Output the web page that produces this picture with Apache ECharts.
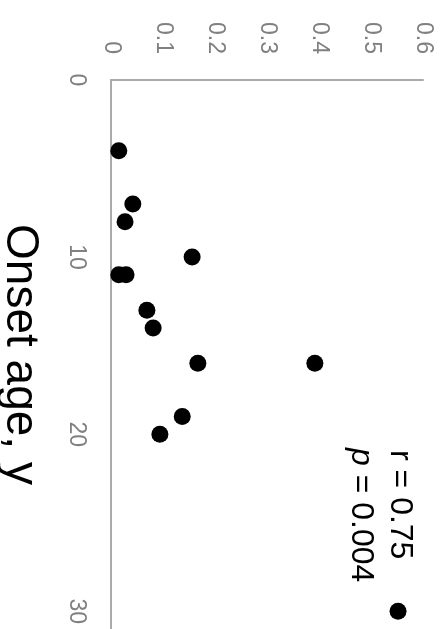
<!DOCTYPE html>
<html>
<head>
<meta charset="utf-8">
<script src="https://cdn.jsdelivr.net/npm/echarts@6/dist/echarts.min.js"></script>
<style>
html,body{margin:0;padding:0;background:#fff;}
#chart{width:443px;height:629px;}
</style>
</head>
<body>
<div id="chart"></div>
<script>
// Data (onset age in years, value)
var onsetAge = [4, 7, 8, 10, 11, 11, 13, 14, 16, 16, 19, 20, 30];
var values   = [0.015, 0.042, 0.027, 0.156, 0.015, 0.029, 0.069, 0.081, 0.167, 0.392, 0.137, 0.094, 0.552];
var valueTicks = [0, 0.1, 0.2, 0.3, 0.4, 0.5, 0.6];
var ageTicks = [0, 10, 20, 30];
var statR = 'r = 0.75';
var statP = '{i|p} = 0.004';

var points = onsetAge.map(function (a, i) { return [values[i], a]; });

var chart = echarts.init(document.getElementById('chart'), null, {renderer: 'canvas'});
var FONT = 'Liberation Sans';
chart.setOption({
  backgroundColor: '#fff',
  animation: false,
  grid: {left: 111, top: 80, width: 312, height: 549, containLabel: false, outerBoundsMode: 'none'},
  xAxis: {
    type: 'value', position: 'top',
    min: 0, max: 0.6, interval: 0.1,
    axisLine: {show: true, lineStyle: {color: '#aaaaaa', width: 2}},
    axisTick: {show: false},
    splitLine: {show: false},
    axisLabel: {
      rotate: -90, margin: 26, color: '#808080', fontSize: 23, fontFamily: FONT,
      formatter: function (v) {
        for (var i = 0; i < valueTicks.length; i++) if (Math.abs(valueTicks[i] - v) < 1e-9) return String(valueTicks[i]);
        return '';
      }
    }
  },
  yAxis: {
    type: 'value', inverse: true,
    min: 0, max: 31, interval: 10,
    name: 'Onset age, y', nameLocation: 'middle', nameRotate: -90, nameGap: 68,
    nameTextStyle: {color: '#000', fontSize: 46, fontFamily: FONT},
    axisLine: {show: true, lineStyle: {color: '#aaaaaa', width: 2}},
    axisTick: {show: false},
    splitLine: {show: false},
    axisLabel: {
      rotate: -90, margin: 23, color: '#808080', fontSize: 23, fontFamily: FONT,
      showMaxLabel: false,
      formatter: function (v) { return ageTicks.indexOf(v) >= 0 ? String(v) : ''; }
    }
  },
  graphic: [
    {type: 'text', x: 400, y: 450, rotation: -Math.PI / 2,
     style: {text: statR, fill: '#000', font: '32px "Liberation Sans"', textAlign: 'left', textVerticalAlign: 'middle'}},
    {type: 'text', x: 361, y: 448, rotation: -Math.PI / 2,
     style: {text: statP, fill: '#000', font: '32px "Liberation Sans"', textAlign: 'left', textVerticalAlign: 'middle',
       rich: {i: {fontStyle: 'italic', fontSize: 32, fontFamily: FONT}}}}
  ],
  series: [{
    type: 'scatter',
    data: points,
    symbol: 'circle',
    symbolSize: 17,
    itemStyle: {color: '#000', opacity: 1}
  }]
});
</script>
</body>
</html>
